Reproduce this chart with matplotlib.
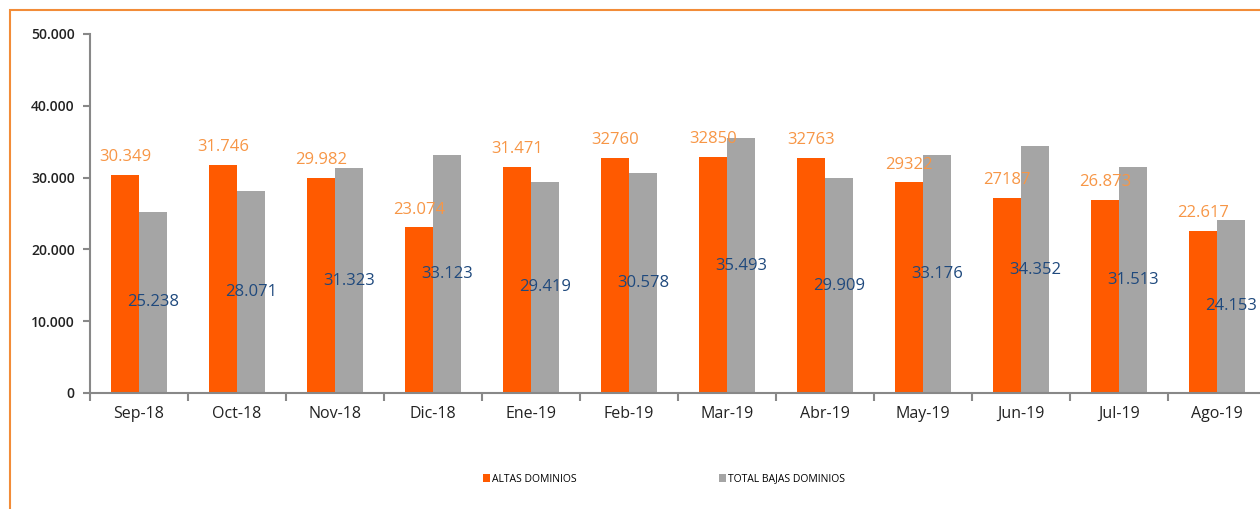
import matplotlib
matplotlib.use("Agg")
import matplotlib.pyplot as plt
import numpy as np
from matplotlib.patches import Rectangle, Patch
from matplotlib.ticker import FixedLocator, FuncFormatter

categories = ["Sep-18", "Oct-18", "Nov-18", "Dic-18", "Ene-19", "Feb-19",
              "Mar-19", "Abr-19", "May-19", "Jun-19", "Jul-19", "Ago-19"]
altas = [30349, 31746, 29982, 23074, 31471, 32760, 32850, 32763, 29322, 27187, 26873, 22617]
bajas = [25238, 28071, 31323, 33123, 29419, 30578, 35493, 29909, 33176, 34352, 31513, 24153]
altas_labels = ["30.349", "31.746", "29.982", "23.074", "31.471", "32760",
                "32850", "32763", "29322", "27187", "26.873", "22.617"]
bajas_labels = ["25.238", "28.071", "31.323", "33.123", "29.419", "30.578",
                "35.493", "29.909", "33.176", "34.352", "31.513", "24.153"]
yticks = [0, 10000, 20000, 30000, 40000, 50000]

ORANGE = "#FF5A00"
GREY = "#A5A5A5"
LBL_OR = "#F79646"
LBL_BL = "#1F497D"
AXC = "#888888"
FONT = "Open Sans"

W, H = 1260, 509
fig = plt.figure(figsize=(W / 100, H / 100), dpi=100)

# orange frame (left and top visible, extends beyond right/bottom)
fig.patches.append(Rectangle((10 / W, -0.1), 1.2, 1 - 10 / H + 0.1, transform=fig.transFigure,
                             fill=False, edgecolor="#F28C38", linewidth=1.5, zorder=0))

ax_l, ax_r, ax_t, ax_b = 90, 1266, 34, 393
ax = fig.add_axes([ax_l / W, 1 - ax_b / H, (ax_r - ax_l) / W, (ax_b - ax_t) / H])
ax.set_facecolor("none")

x = np.arange(len(categories))
bw = 0.286
ax.bar(x - bw / 2, altas, width=bw, color=ORANGE, zorder=2)
ax.bar(x + bw / 2, bajas, width=bw, color=GREY, zorder=2)

for i in range(len(categories)):
    ax.annotate(altas_labels[i], (x[i] - bw / 2, altas[i]), xytext=(0, 7),
                textcoords="offset points", ha="center", va="bottom",
                color=LBL_OR, fontsize=12, family=FONT, zorder=4)
    ax.text(x[i] + bw / 2, bajas[i] / 2, bajas_labels[i], ha="center", va="center",
            color=LBL_BL, fontsize=12, family=FONT, zorder=4)

ax.set_xlim(-0.5, len(categories) - 0.5)
ax.set_ylim(0, 50000)
ax.set_yticks(yticks)
ax.yaxis.set_major_formatter(FuncFormatter(lambda v, p: f"{int(v):,}".replace(",", ".")))
ax.set_xticks(x)
ax.set_xticklabels(categories, family=FONT, fontsize=11.5, color="#222222")
ax.xaxis.set_minor_locator(FixedLocator(np.arange(-0.5, len(categories), 1.0)))
ax.tick_params(axis="x", which="major", length=0, pad=9)
ax.tick_params(axis="x", which="minor", length=6, color=AXC, width=1.5, direction="out")
ax.tick_params(axis="y", length=5, color=AXC, width=1.5, labelsize=10, pad=6, labelcolor="#222222")
for lbl in ax.get_yticklabels():
    lbl.set_family(FONT)
    lbl.set_fontweight("semibold")

for s in ["top", "right"]:
    ax.spines[s].set_visible(False)
for s in ["left", "bottom"]:
    ax.spines[s].set_color(AXC)
    ax.spines[s].set_linewidth(1.5)

handles = [Patch(facecolor=ORANGE, label="ALTAS DOMINIOS"),
           Patch(facecolor=GREY, label="TOTAL BAJAS DOMINIOS")]
fig.legend(handles=handles, loc="center", bbox_to_anchor=(664 / W, 1 - 479 / H), ncol=2,
           frameon=False, prop={"family": FONT, "size": 7.5}, handlelength=0.7,
           handleheight=0.7, handletextpad=0.2, columnspacing=13.6)

fig.savefig("out.png", dpi=100)
